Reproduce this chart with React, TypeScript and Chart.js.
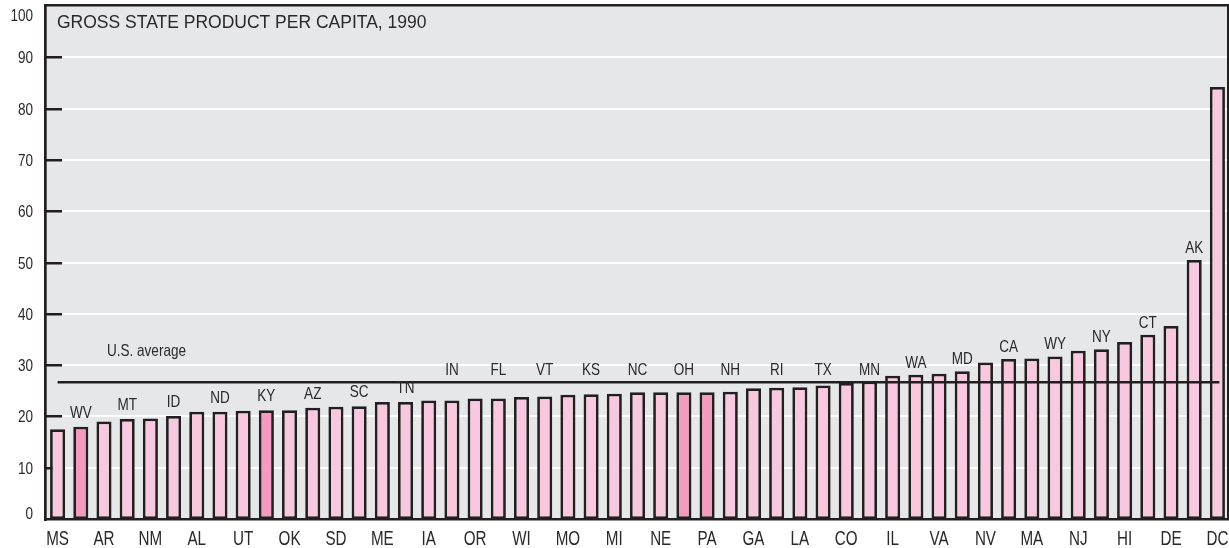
import React, { useEffect, useRef } from "react";
import { Chart, registerables } from "chart.js";

Chart.register(...registerables);

const title = "GROSS STATE PRODUCT PER CAPITA, 1990";
const avgLabel = "U.S. average";
const usAverage = 26.7;

const states = ["MS","WV","AR","MT","NM","ID","AL","ND","UT","KY","OK","AZ","SD","SC","ME","TN","IA","IN","OR","FL","WI","VT","MO","KS","MI","NC","NE","OH","PA","NH","GA","RI","LA","TX","CO","MN","IL","WA","VA","MD","NV","CA","MA","WY","NJ","NY","HI","CT","DE","AK","DC"];
const values = [17.5,18.0,19.0,19.5,19.6,20.1,20.9,20.9,21.1,21.2,21.2,21.7,21.9,22.0,22.8,22.8,23.1,23.1,23.5,23.5,23.8,23.9,24.2,24.3,24.4,24.7,24.7,24.7,24.7,24.8,25.5,25.6,25.7,26.0,26.5,26.8,27.9,28.1,28.3,28.8,30.5,31.2,31.3,31.7,32.8,33.1,34.5,35.9,37.6,50.5,84.2];
const highlighted = ["WV","KY","OH","PA"];
const yTicks = [0,10,20,30,40,50,60,70,80,90,100];

const DARK = "#231f20";
const TEXT = "#2b2829";
const BG = "#e6e7e9";
const PINK = "#f8c8de";
const PINK_DARK = "#f39abf";
const SANS = '"Liberation Sans", Arial, Helvetica, sans-serif';

function narrowText(ctx: CanvasRenderingContext2D, s: string, x: number, y: number, size: number, sx: number, align: CanvasTextAlign, baseline: CanvasTextBaseline) {
  ctx.save();
  ctx.translate(x, y);
  ctx.scale(sx, 1);
  ctx.font = `${size}px ${SANS}`;
  ctx.textAlign = align;
  ctx.textBaseline = baseline;
  ctx.fillText(s, 0, 0);
  ctx.restore();
}

const deco = {
  id: "deco",
  beforeDatasetsDraw(chart: any) {
    const { ctx, chartArea: a, scales } = chart;
    const y = scales.y;
    ctx.save();
    ctx.fillStyle = BG;
    ctx.fillRect(a.left, a.top, a.right - a.left, a.bottom - a.top);
    yTicks.forEach((v) => {
      if (v === 0 || v === 100) return;
      const py = Math.round(y.getPixelForValue(v));
      ctx.fillStyle = "#ffffff";
      ctx.fillRect(a.left + 16, py - 1, a.right - a.left - 16, 2);
      ctx.fillStyle = DARK;
      ctx.fillRect(a.left - 1, py - 1, 17, 2.5);
    });
    ctx.restore();
  },
  afterDatasetsDraw(chart: any) {
    const { ctx, chartArea: a, scales } = chart;
    const x = scales.x;
    const y = scales.y;
    ctx.save();
    const ly = Math.round(y.getPixelForValue(usAverage));
    ctx.fillStyle = DARK;
    const x0 = x.getPixelForValue(0);
    const x1 = x.getPixelForValue(states.length - 1) + 2;
    ctx.fillRect(x0, ly - 1, x1 - x0, 2.5);
    // frame
    ctx.fillRect(a.left - 2, a.top - 2, 2.7, a.bottom - a.top + 4);
    ctx.fillRect(a.left - 2, a.top - 2, a.right - a.left + 2, 2.5);
    ctx.fillRect(a.right - 2, a.top - 2, 2, a.bottom - a.top + 2);
    ctx.fillRect(a.left - 2, a.bottom - 1, a.right - a.left + 2, 2.5);

    ctx.fillStyle = TEXT;
    // title
    ctx.font = `17.5px ${SANS}`;
    ctx.textAlign = "left";
    ctx.textBaseline = "alphabetic";
    ctx.fillText(title, a.left + 11, a.top + 22);
    // avg label
    narrowText(ctx, avgLabel, a.left + 61, ly - 26, 16.5, 0.82, "left", "alphabetic");

    // y labels
    yTicks.forEach((v) => {
      let py = y.getPixelForValue(v);
      py = Math.max(a.top + 9, Math.min(a.bottom - 6, py));
      narrowText(ctx, String(v), a.left - 13, py + 6, 16.5, 0.82, "right", "alphabetic");
    });

    // state labels
    states.forEach((s, i) => {
      const px = x.getPixelForValue(i);
      if (i % 2 === 0) {
        narrowText(ctx, s, px, a.bottom + 26, 20, 0.76, "center", "alphabetic");
      } else {
        const v = values[i];
        const top = y.getPixelForValue(v);
        let cy;
        if (v < usAverage - 3.8) cy = top - 15;
        else cy = Math.min(top, ly) - 13;
        narrowText(ctx, s, px, cy + 6, 16.5, 0.82, "center", "alphabetic");
      }
    });
    ctx.restore();
  },
};

export default function App() {
  const ref = useRef<HTMLCanvasElement>(null);
  useEffect(() => {
    document.body.style.margin = "0";
    const chart = new Chart(ref.current!, {
      type: "bar",
      data: {
        labels: states,
        datasets: [
          {
            data: values,
            backgroundColor: states.map((s) => (highlighted.includes(s) ? PINK_DARK : PINK)),
            borderColor: DARK,
            borderWidth: 2.75,
            borderSkipped: false,
            barPercentage: 0.65,
            categoryPercentage: 1,
          },
        ],
      },
      options: {
        responsive: false,
        animation: false,
        layout: { padding: { left: 46, right: 0, top: 6, bottom: 29 } },
        plugins: { legend: { display: false }, tooltip: { enabled: false }, title: { display: false } },
        scales: {
          x: { display: false, offset: true, grid: { display: false } },
          y: { display: false, min: 0, max: 100, grid: { display: false } },
        },
      },
      plugins: [deco],
    });
    return () => chart.destroy();
  }, []);
  return (
    <div style={{ position: "absolute", left: 0, top: 0, width: 1229, height: 548, background: "#fff" }}>
      <canvas ref={ref} width={1229} height={548} style={{ display: "block" }} />
    </div>
  );
}
